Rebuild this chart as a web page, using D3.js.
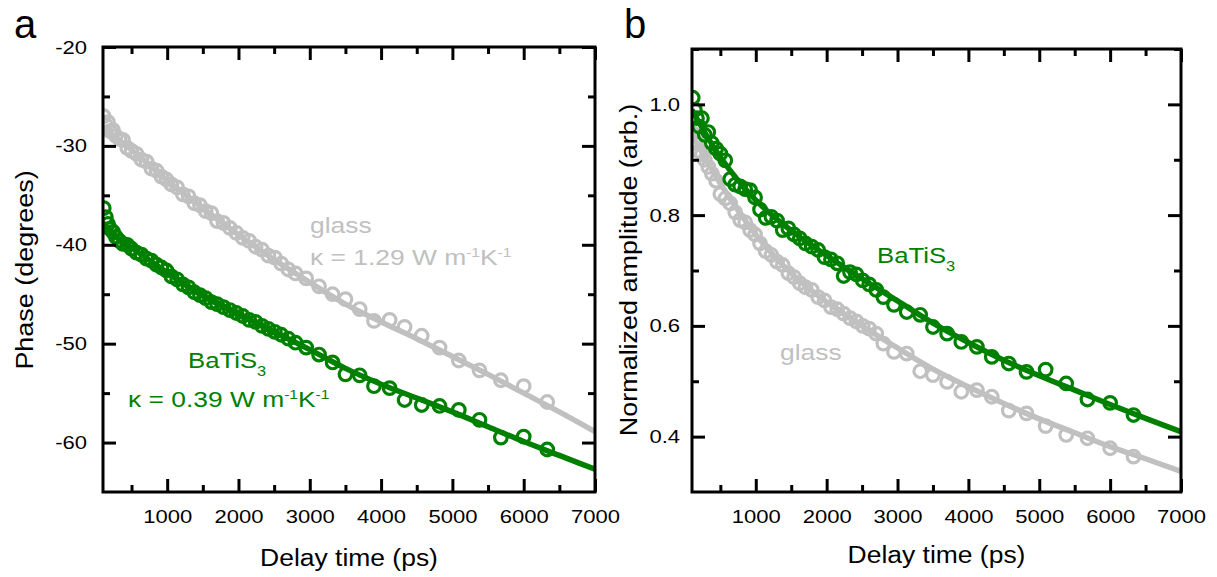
<!DOCTYPE html>
<html>
<head>
<meta charset="utf-8">
<script src="https://cdn.jsdelivr.net/npm/d3@7"></script>
<style>
  body { margin: 0; background: #fff; }
  svg { display: block; font-family: "Liberation Sans", Arial, sans-serif; }
</style>
</head>
<body>
<div id="chart"></div>
<script>
// delay times (ps), shared by both measurements
const delay = [110, 140, 170, 200, 240, 280, 330, 380, 440, 500, 570, 640, 710, 780, 850, 920, 990,
  1060, 1140, 1220, 1300, 1380, 1460, 1540, 1620, 1700, 1790, 1880, 1970, 2060, 2150, 2240, 2330,
  2420, 2510, 2600, 2700, 2800, 2950, 3130, 3320, 3500, 3700, 3900, 4120, 4330, 4570, 4820, 5090,
  5380, 5680, 6000, 6330];

// phase (degrees)
const glassPhase = [-27.0, -27.9, -27.6, -28.5, -28.4, -29.0, -29.3, -29.4, -30.2, -30.5, -30.8, -31.4,
  -31.6, -32.3, -32.5, -33.1, -33.4, -33.9, -34.2, -34.9, -35.1, -35.8, -36.0, -36.6, -36.8, -37.6,
  -37.8, -38.3, -38.8, -39.3, -39.6, -40.2, -40.5, -41.1, -41.3, -41.9, -42.5, -42.9, -43.4, -44.2,
  -45.0, -45.5, -46.5, -47.7, -47.6, -48.3, -49.2, -50.4, -51.7, -52.7, -53.7, -54.3, -55.9];
const batisPhase = [-36.3, -37.2, -37.9, -38.4, -38.7, -39.2, -39.6, -39.9, -40.0, -40.4, -40.8, -41.0,
  -41.4, -41.6, -42.0, -42.3, -42.6, -43.2, -43.5, -44.0, -44.3, -44.8, -45.1, -45.4, -45.8, -46.0,
  -46.3, -46.6, -46.9, -47.2, -47.6, -47.8, -48.2, -48.5, -48.8, -49.1, -49.5, -49.9, -50.4, -51.1,
  -51.9, -53.1, -53.2, -54.3, -54.5, -55.7, -56.2, -56.3, -56.7, -57.7, -59.5, -59.4, -60.7];

// normalized amplitude
const glassAmp = [0.948, 0.935, 0.93, 0.915, 0.91, 0.9, 0.887, 0.875, 0.862, 0.838, 0.83, 0.821, 0.805,
  0.791, 0.787, 0.773, 0.765, 0.749, 0.735, 0.728, 0.716, 0.71, 0.695, 0.688, 0.677, 0.67, 0.665,
  0.652, 0.646, 0.634, 0.63, 0.622, 0.614, 0.608, 0.6, 0.595, 0.586, 0.568, 0.553, 0.55, 0.518,
  0.511, 0.499, 0.481, 0.484, 0.472, 0.447, 0.442, 0.419, 0.403, 0.397, 0.379, 0.364];
const batisAmp = [1.012, 0.99, 0.975, 0.96, 0.975, 0.945, 0.95, 0.93, 0.92, 0.911, 0.899, 0.865, 0.855,
  0.852, 0.847, 0.845, 0.832, 0.81, 0.795, 0.797, 0.79, 0.773, 0.776, 0.765, 0.758, 0.749, 0.743,
  0.737, 0.724, 0.72, 0.713, 0.69, 0.697, 0.693, 0.682, 0.675, 0.665, 0.652, 0.638, 0.625, 0.62,
  0.598, 0.586, 0.571, 0.562, 0.544, 0.532, 0.517, 0.521, 0.496, 0.467, 0.461, 0.439];

// model fits
const fitDelay = [100, 300, 500, 1000, 1500, 2000, 2500, 3000, 3500, 4000, 4500, 5000, 5500, 6000, 6500, 7000];
const glassPhaseFit = [-28.0, -29.3, -30.4, -33.5, -36.3, -39.0, -41.5, -43.8, -46.0, -47.8, -49.5, -51.3, -53.1, -55.0, -56.9, -58.9];
const batisPhaseFit = [-37.8, -39.3, -40.3, -42.8, -45.2, -47.0, -48.8, -50.6, -52.5, -54.1, -55.5, -56.9, -58.4, -59.9, -61.3, -62.7];
const glassAmpFit = [0.945, 0.9, 0.857, 0.765, 0.695, 0.643, 0.6, 0.56, 0.522, 0.49, 0.46, 0.432, 0.407, 0.382, 0.36, 0.337];
const batisAmpFit = [0.99, 0.945, 0.905, 0.827, 0.772, 0.727, 0.685, 0.645, 0.605, 0.57, 0.538, 0.51, 0.484, 0.458, 0.433, 0.409];

// ticks
const xTicks = [1000, 2000, 3000, 4000, 5000, 6000, 7000];
const xMinor = [500, 1500, 2500, 3500, 4500, 5500, 6500];
const phaseTicks = [-20, -30, -40, -50, -60];
const phaseMinor = [-25, -35, -45, -55];
const ampTicks = [0.4, 0.6, 0.8, 1.0];
const ampMinor = [0.5, 0.7, 0.9, 1.1];

const green = "#008000", grey = "#c0c0c0";

const svg = d3.select("#chart").append("svg")
  .attr("width", 1217).attr("height", 577);

// text drawn with a horizontal stretch to match the original typeface width
function stretchText(g, x, y, sx, size, color, anchor, rotate) {
  return g.append("g")
    .attr("transform", `translate(${x},${y})` + (rotate ? ` rotate(${rotate})` : "") + ` scale(${sx},1)`)
    .append("text")
    .attr("text-anchor", anchor || "start")
    .attr("fill", color)
    .style("font-size", size + "px");
}

function kappaLabel(g, x, y, val, color) {
  const t = stretchText(g, x, y, 1.2, 22, color);
  t.append("tspan").text("\u03ba = " + val + " W m");
  t.append("tspan").attr("dy", -8).style("font-size", "13px").text("-1");
  t.append("tspan").attr("dy", 8).text("K");
  t.append("tspan").attr("dy", -8).style("font-size", "13px").text("-1");
}

function batisLabel(g, x, y) {
  const t = stretchText(g, x, y, 1.17, 22, green);
  t.append("tspan").text("BaTiS");
  t.append("tspan").attr("dy", 8).style("font-size", "14px").text("3");
}

function drawPanel(p) {
  const g = svg.append("g");
  const x = d3.scaleLinear().domain([100, 7000]).range([p.left, p.right]);
  const y = d3.scaleLinear().domain(p.yDomain).range([p.bottom, p.top]);

  const clipId = "clip-" + p.letter;
  svg.append("clipPath").attr("id", clipId)
    .append("rect")
    .attr("x", p.left).attr("y", p.top)
    .attr("width", p.right - p.left).attr("height", p.bottom - p.top);

  const line = d3.line()
    .x((d, i) => x(fitDelay[i]))
    .y(d => y(d))
    .curve(d3.curveMonotoneX);

  const plot = g.append("g").attr("clip-path", `url(#${clipId})`);
  p.series.forEach(s => {
    plot.append("path")
      .datum(s.fit)
      .attr("d", line)
      .attr("fill", "none")
      .attr("stroke", s.color)
      .attr("stroke-width", 5.5);
  });
  p.series.forEach(s => {
    plot.append("g").selectAll("circle")
      .data(s.values)
      .enter().append("circle")
      .attr("cx", (d, i) => x(delay[i]))
      .attr("cy", d => y(d))
      .attr("r", 6.3)
      .attr("fill", "none")
      .attr("stroke", s.color)
      .attr("stroke-width", 3.2);
  });

  // axes: major and minor ticks on all four sides, pointing inwards
  const styleTicks = sel => {
    sel.select(".domain").remove();
    sel.selectAll(".tick line").attr("stroke", "#000").attr("stroke-width", 3);
  };
  const sides = [
    { axis: d3.axisBottom, scale: x, pos: `translate(0,${p.bottom})`, major: xTicks, minor: xMinor, labels: true },
    { axis: d3.axisTop, scale: x, pos: `translate(0,${p.top})`, major: xTicks, minor: xMinor },
    { axis: d3.axisLeft, scale: y, pos: `translate(${p.left},0)`, major: p.yTicks, minor: p.yMinor, labels: true },
    { axis: d3.axisRight, scale: y, pos: `translate(${p.right},0)`, major: p.yTicks, minor: p.yMinor }
  ];
  sides.forEach(sd => {
    g.append("g").attr("transform", sd.pos)
      .call(sd.axis(sd.scale).tickValues(sd.minor).tickSize(-7).tickFormat(""))
      .call(styleTicks);
    const ax = sd.axis(sd.scale).tickValues(sd.major).tickSize(-13);
    const isX = sd.scale === x;
    if (!sd.labels) ax.tickFormat("");
    else if (isX) ax.tickFormat(d3.format("d")).tickPadding(18);
    else ax.tickFormat(p.yFormat).tickPadding(p.yPad / 1.16);
    const a = g.append("g").attr("transform", sd.pos).call(ax).call(styleTicks);
    a.selectAll("text")
      .attr("fill", "#000")
      .style("font-size", "19px")
      .style("font-family", '"Liberation Sans", Arial, sans-serif')
      .attr("transform", "scale(1.16,1)");
  });

  // frame
  g.append("rect")
    .attr("x", p.left).attr("y", p.top)
    .attr("width", p.right - p.left).attr("height", p.bottom - p.top)
    .attr("fill", "none").attr("stroke", "#000").attr("stroke-width", 3);

  // axis titles
  stretchText(g, (p.left + p.right) / 2, p.xTitleY, 1.08, 24.5, "#000", "middle").text("Delay time (ps)");
  stretchText(g, p.yTitleX, 270, 1.1, 24.5, "#000", "middle", -90).text(p.yTitle);

  // panel letter
  g.append("text")
    .attr("x", p.letterX).attr("y", 38)
    .style("font-size", "40px")
    .text(p.letter);

  p.notes(g);
}

drawPanel({
  letter: "a", letterX: 14,
  left: 103, right: 595, top: 47, bottom: 492,
  yDomain: [-65, -20], yTicks: phaseTicks, yMinor: phaseMinor,
  yFormat: d => String(d), yPad: 16,
  yTitle: "Phase (degrees)", yTitleX: 33, xTitleY: 566,
  series: [
    { color: grey, values: glassPhase, fit: glassPhaseFit },
    { color: green, values: batisPhase, fit: batisPhaseFit }
  ],
  notes: g => {
    stretchText(g, 310, 233, 1.2, 22, grey).text("glass");
    kappaLabel(g, 310, 265, "1.29", grey);
    batisLabel(g, 188, 368);
    kappaLabel(g, 128, 407, "0.39", green);
  }
});

drawPanel({
  letter: "b", letterX: 624,
  left: 692, right: 1181, top: 49, bottom: 492,
  yDomain: [0.3, 1.1], yTicks: ampTicks, yMinor: ampMinor,
  yFormat: d3.format(".1f"), yPad: 12,
  yTitle: "Normalized amplitude (arb.)", yTitleX: 637, xTitleY: 563,
  series: [
    { color: grey, values: glassAmp, fit: glassAmpFit },
    { color: green, values: batisAmp, fit: batisAmpFit }
  ],
  notes: g => {
    batisLabel(g, 877, 263);
    stretchText(g, 780, 360, 1.2, 22, grey).text("glass");
  }
});
</script>
</body>
</html>
